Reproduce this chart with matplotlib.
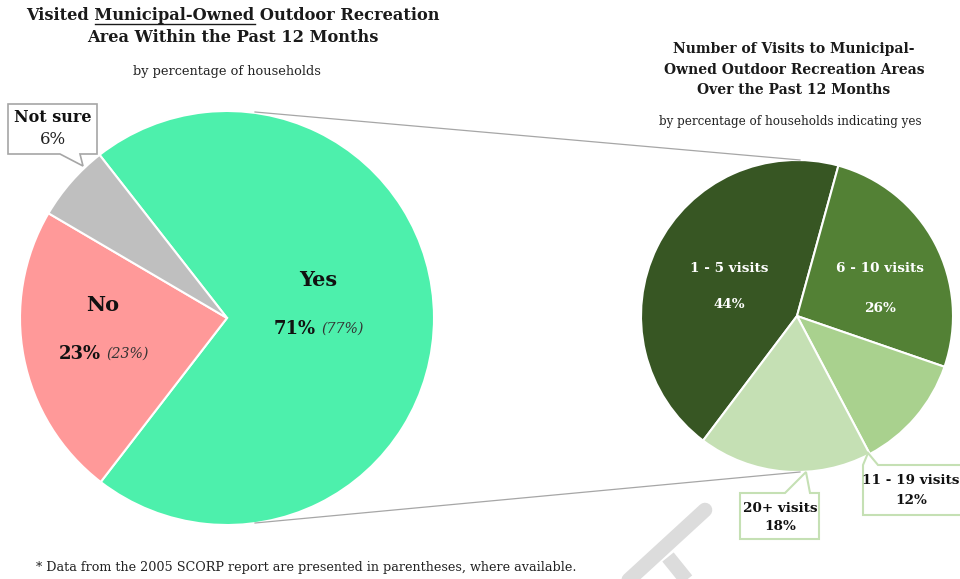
import matplotlib.pyplot as plt
from matplotlib.patches import Polygon

# Visited municipal-owned outdoor recreation area (share of households)
visit_labels = ['Yes', 'No', 'Not sure']
visit_share = [71, 23, 6]
visit_share_2005 = [77, 23, None]
visit_colors = ['#4DF0AC', '#FF9999', '#BFBFBF']

# Number of visits among households that said yes
freq_labels = ['1 - 5 visits', '6 - 10 visits', '11 - 19 visits', '20+ visits']
freq_share = [44, 26, 12, 18]
freq_colors = ['#375623', '#538135', '#A9D18E', '#C5E0B4']

W, H = 960, 579
SERIF = 'DejaVu Serif'

fig = plt.figure(figsize=(W / 100, H / 100), dpi=100)


def pie_axes(cx, cy, r):
    # square axes placed in pixel coordinates (y measured from the top)
    return fig.add_axes([(cx - r) / W, (H - cy - r) / H, 2 * r / W, 2 * r / H])


# left pie
axl = pie_axes(227, 318, 207)
axl.pie(visit_share, colors=visit_colors, startangle=128, counterclock=False,
        radius=1, wedgeprops=dict(edgecolor='white', linewidth=1.5))
axl.set_xlim(-1, 1)
axl.set_ylim(-1, 1)
axl.axis('off')

# right pie
axr = pie_axes(797, 316, 156)
axr.pie(freq_share, colors=freq_colors, startangle=233, counterclock=False,
        radius=1, wedgeprops=dict(edgecolor='white', linewidth=1.5))
axr.set_xlim(-1, 1)
axr.set_ylim(-1, 1)
axr.axis('off')

# overlay in pixel coordinates for lines, callouts and text
ax = fig.add_axes([0, 0, 1, 1], facecolor='none')
ax.set_xlim(0, W)
ax.set_ylim(H, 0)
ax.axis('off')

# connector lines between the two pies
ax.plot([255, 800], [112, 160], color='#A6A6A6', lw=0.9, zorder=1)
ax.plot([255, 800], [523, 472], color='#A6A6A6', lw=0.9, zorder=1)

# faint watermark strokes
ax.plot([705, 620], [510, 588], color='#DCDCDC', lw=10.5, solid_capstyle='round', zorder=0)
ax.plot([668, 693], [557, 588], color='#DCDCDC', lw=10.5, solid_capstyle='butt', zorder=0)


def callout(x0, y0, x1, y1, base, tip, side, ec, lw):
    bx0, bx1 = base
    if side == 'top':
        pts = [(x0, y0), (bx0, y0), tip, (bx1, y0), (x1, y0), (x1, y1), (x0, y1)]
    else:
        pts = [(x0, y0), (x1, y0), (x1, y1), (bx1, y1), tip, (bx0, y1), (x0, y1)]
    ax.add_patch(Polygon(pts, closed=True, facecolor='white', edgecolor=ec,
                         lw=lw, zorder=3))


callout(8, 104, 97, 154, (60, 80), (83, 166), 'bottom', '#A6A6A6', 1.2)
callout(740, 493, 819, 539, (785, 810), (806, 472), 'top', '#C5E0B4', 1.5)
callout(863, 465, 965, 515, (863, 878), (868, 453), 'top', '#C5E0B4', 1.5)

txt = dict(family=SERIF, ha='center', va='center', zorder=4)
TITLE_SIZE = 11.7

# left titles, with the middle words underlined
t1 = 'Visited Municipal-Owned Outdoor Recreation'
ax.text(233, 15, t1, fontsize=TITLE_SIZE, fontweight='bold', color='#1a1a1a', **txt)
ax.text(233, 38, 'Area Within the Past 12 Months', fontsize=TITLE_SIZE,
        fontweight='bold', color='#1a1a1a', **txt)
ax.text(227, 72, 'by percentage of households', fontsize=9.3, color='#222222', **txt)

renderer = fig.canvas.get_renderer()


def text_width(s):
    t = ax.text(0, 0, s, fontsize=TITLE_SIZE, fontweight='bold', family=SERIF)
    w = t.get_window_extent(renderer).width
    t.remove()
    return w


full_w = text_width(t1)
upto = text_width('Visited Municipal-Owned')
word = text_width('Municipal-Owned')
left = 233 - full_w / 2
ax.plot([left + upto - word, left + upto], [24, 24], color='#1a1a1a', lw=1.0, zorder=4)

# right titles
for y, line in zip([49, 70, 90], ['Number of Visits to Municipal-',
                                  'Owned Outdoor Recreation Areas',
                                  'Over the Past 12 Months']):
    ax.text(794, y, line, fontsize=10.0, fontweight='bold', color='#1a1a1a', **txt)
ax.text(790, 121, 'by percentage of households indicating yes', fontsize=8.6,
        color='#222222', **txt)

# left pie labels
ax.text(318, 280, visit_labels[0], fontsize=15, fontweight='bold', color='#111111', **txt)
ax.text(316, 329, f'{visit_share[0]}%', fontsize=13, fontweight='bold', color='#111111',
        family=SERIF, ha='right', va='center', zorder=4)
ax.text(321, 329, f'({visit_share_2005[0]}%)', fontsize=10.2, style='italic', color='#333333',
        family=SERIF, ha='left', va='center', zorder=4)

ax.text(103, 305, visit_labels[1], fontsize=15, fontweight='bold', color='#111111', **txt)
ax.text(101, 354, f'{visit_share[1]}%', fontsize=13, fontweight='bold', color='#111111',
        family=SERIF, ha='right', va='center', zorder=4)
ax.text(106, 354, f'({visit_share_2005[1]}%)', fontsize=10.2, style='italic', color='#333333',
        family=SERIF, ha='left', va='center', zorder=4)

ax.text(53, 117, visit_labels[2], fontsize=11.5, fontweight='bold', color='#111111', **txt)
ax.text(53, 140, f'{visit_share[2]}%', fontsize=12, color='#222222', **txt)

# right pie labels
LBL = 9.7
ax.text(729, 268, freq_labels[0], fontsize=LBL, fontweight='bold', color='white', **txt)
ax.text(729, 305, f'{freq_share[0]}%', fontsize=LBL, fontweight='bold', color='white', **txt)
ax.text(880, 268, freq_labels[1], fontsize=LBL, fontweight='bold', color='white', **txt)
ax.text(880, 308, f'{freq_share[1]}%', fontsize=LBL, fontweight='bold', color='white', **txt)
ax.text(911, 481, freq_labels[2], fontsize=LBL, fontweight='bold', color='#111111', **txt)
ax.text(911, 500, f'{freq_share[2]}%', fontsize=LBL, fontweight='bold', color='#111111', **txt)
ax.text(780, 508, freq_labels[3], fontsize=LBL, fontweight='bold', color='#111111', **txt)
ax.text(780, 526, f'{freq_share[3]}%', fontsize=LBL, fontweight='bold', color='#111111', **txt)

# footnote
ax.text(36, 568, '* Data from the 2005 SCORP report are presented in parentheses, where available.',
        fontsize=9.2, color='#222222', family=SERIF, ha='left', va='center', zorder=4)

fig.savefig('out.png', dpi=100)
